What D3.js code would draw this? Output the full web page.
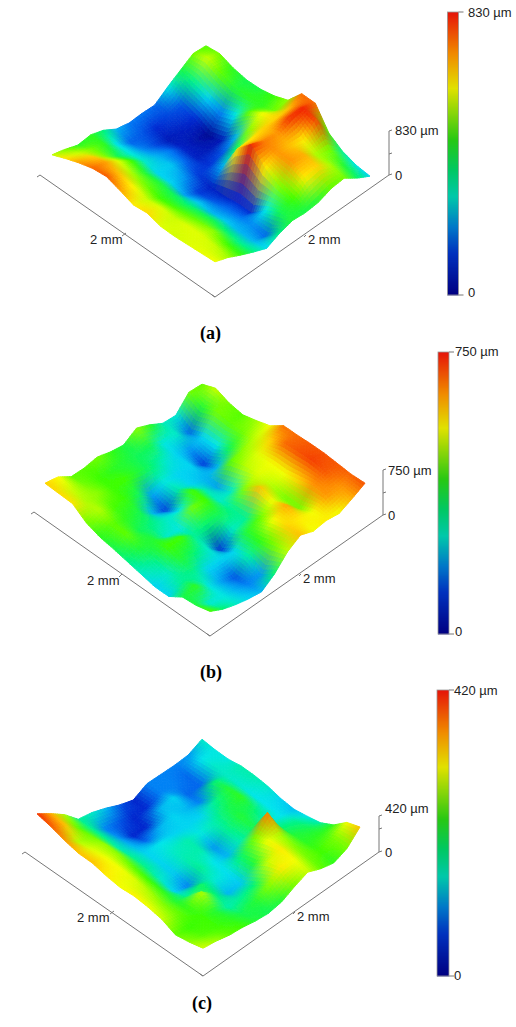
<!DOCTYPE html>
<html><head><meta charset="utf-8">
<script src="https://cdn.jsdelivr.net/npm/d3@7/dist/d3.min.js"></script>
<style>html,body{margin:0;padding:0;background:#fff}svg{display:block}
text{font-family:"Liberation Sans",Arial,sans-serif;font-size:13px;fill:#222}
.cap{font-family:"Liberation Serif","Times New Roman",serif;font-size:18px;font-weight:bold;fill:#000}</style>
</head><body><svg id="c" width="516" height="1027"></svg>
<script>
// Surface heights, as fractions of each panel's z range. Row = step from front-left edge to back-right edge.
const surfaceA=[
[.67,.76,.84,.9,.92,.84,.75,.77,.7,.69,.7,.71,.72],
[.6,.68,.78,.84,.8,.74,.68,.7,.68,.7,.7,.68,.64],
[.51,.6,.62,.7,.65,.6,.55,.56,.58,.6,.62,.55,.53],
[.52,.52,.47,.55,.5,.5,.47,.45,.47,.48,.45,.42,.43],
[.44,.35,.36,.38,.33,.33,.28,.32,.3,.32,.3,.3,.34],
[.3,.22,.26,.3,.32,.27,.17,.2,.23,.24,.26,.22,.44],
[.24,.2,.18,.24,.23,.17,.12,.12,.15,.15,.35,.47,.5],
[.24,.15,.1,.13,.12,.16,.3,.75,.98,.75,.62,.55,.48],
[.22,.18,.12,.08,.1,.2,.45,.75,.88,.85,.85,.75,.5],
[.36,.2,.15,.03,.1,.3,.62,.78,.85,.8,.82,.78,.58],
[.48,.42,.33,.25,.35,.58,.72,.78,.97,.75,.65,.65,.6],
[.6,.68,.58,.5,.52,.52,.6,.8,.98,.95,.6,.5,.45],
[.57,.6,.52,.48,.49,.54,.63,.9,.9,.56,.42,.35,.33]];
const surfaceB=[
[.78,.77,.76,.6,.52,.48,.43,.38,.33,.33,.48,.5,.56],
[.73,.68,.65,.66,.58,.58,.5,.42,.38,.42,.52,.37,.45],
[.58,.6,.62,.56,.52,.47,.5,.55,.5,.42,.36,.36,.38],
[.57,.55,.55,.54,.48,.43,.38,.55,.45,.33,.28,.3,.33],
[.6,.52,.55,.47,.3,.38,.36,.42,.38,.33,.2,.25,.3],
[.53,.5,.5,.28,.18,.35,.6,.45,.16,.33,.4,.27,.45],
[.49,.47,.45,.36,.4,.55,.55,.47,.38,.5,.53,.6,.67],
[.62,.47,.38,.33,.33,.4,.38,.42,.42,.58,.72,.78,.8],
[.52,.36,.33,.33,.3,.28,.38,.62,.8,.72,.83,.75,.72],
[.39,.38,.27,.17,.3,.58,.66,.7,.66,.6,.6,.72,.75],
[.37,.22,.33,.35,.48,.63,.7,.72,.72,.78,.85,.85,.72],
[.6,.5,.6,.58,.6,.68,.78,.9,.93,.95,.92,.85,.82],
[.58,.68,.6,.57,.64,.72,.89,.9,.92,.93,.92,.91,.93]];
const surfaceC=[
[.97,.92,.85,.8,.8,.75,.72,.74,.72,.68,.58,.62,.68],
[.82,.8,.66,.7,.72,.72,.7,.66,.62,.6,.54,.57,.64],
[.65,.58,.6,.63,.62,.58,.55,.53,.5,.53,.55,.55,.58],
[.42,.42,.42,.4,.42,.42,.38,.33,.42,.66,.5,.52,.55],
[.38,.25,.27,.3,.33,.33,.32,.25,.46,.45,.4,.47,.5],
[.3,.2,.14,.22,.35,.38,.4,.42,.37,.3,.42,.5,.47],
[.2,.14,.14,.3,.33,.4,.4,.35,.34,.32,.45,.62,.5],
[.13,.15,.3,.33,.33,.36,.27,.3,.45,.5,.68,.75,.6],
[.25,.25,.33,.3,.33,.4,.42,.4,.6,.72,.75,.72,.68],
[.25,.25,.22,.25,.42,.47,.5,.48,.88,.65,.62,.6,.58],
[.25,.22,.22,.45,.5,.52,.45,.38,.45,.5,.52,.55,.52],
[.27,.35,.38,.38,.37,.35,.35,.35,.42,.47,.52,.6,.6],
[.38,.36,.36,.4,.4,.38,.33,.31,.35,.4,.52,.72,.8]];
const zLabels=["830 µm","750 µm","420 µm"];
const lengthLabel="2 mm";
const captions=["(a)","(b)","(c)"];
const colourStops=[0,.147,.24,.347,.44,.547,.73,.85,1];
const surfaceColours=["#000082","#0028d2","#0078f5","#00e6f0","#00f57a","#3cff00","#ffff00","#ff9600","#f01400"];
const barColours=["#000082","#0032be","#0078c8","#00c8aa","#00c864","#28c814","#e1e100","#f08c00","#e6140a"];

const panels=[
 {grid:surfaceA,L:[52,195],F:[215,305],R:[370,196],B:[206,80],
  box:{L:[40,175],F:[215,297],R:[389,175]},z:[175,154,131],zx:395,
  zTop:131,zZero:176,left:[90,240],leftTick:[[122,236],[126,233]],right:[308,240],rightTick:[[304,237],[306,235]],
  bar:[447.5,12,11,283],barx:468,barTop:13,barZero:293,cap:[200,339]},
 {grid:surfaceB,L:[45,530],F:[210,645],R:[365,539],B:[202,419],
  box:{L:[34,512],F:[210,636],R:[383,515]},z:[515,493,470],zx:388,
  zTop:471,zZero:516,left:[87,581],leftTick:[[119,577],[122,574]],right:[303,579],rightTick:[[299,576],[301,574]],
  bar:[438,352,11,282],barx:455,barTop:352,barZero:632,cap:[200,678]},
 {grid:surfaceC,L:[37,872],F:[203,989],R:[360,875],B:[202,762],
  box:{L:[25,852],F:[203,976],R:[379,852]},z:[852,829,816],zx:385,
  zTop:809,zZero:853,left:[77,918],leftTick:[[110,914],[114,911]],right:[297,917],rightTick:[[293,914],[295,912]],
  bar:[437,690,12,286],barx:454,barTop:691,barZero:976,cap:[192,1009]}
];

const svg=d3.select("#c");
const defs=svg.append("defs");
defs.append("filter").attr("id","soft").attr("x","-5%").attr("y","-5%").attr("width","110%").attr("height","110%")
  .append("feGaussianBlur").attr("stdDeviation",0.7);
const surfaceColour=d3.scaleLinear().domain(colourStops).range(surfaceColours).interpolate(d3.interpolateRgb);
const barColour=d3.scaleLinear().domain(colourStops).range(barColours).interpolate(d3.interpolateRgb);
const zScale=d3.scaleLinear().domain([0,1]).range([0,60]);
const line=d3.line();
const SUB=6;

panels.forEach((p,pi)=>{
  const g=p.grid, nb=g.length, na=g[0].length;
  const ua=d3.scaleLinear().domain([0,na-1]).range([0,1]);
  const ub=d3.scaleLinear().domain([0,nb-1]).range([0,1]);
  const pos=(a,b,h)=>{const s=ua(a),t=ub(b);
    const x=(1-s)*(1-t)*p.L[0]+s*(1-t)*p.F[0]+(1-s)*t*p.B[0]+s*t*p.R[0];
    const y=(1-s)*(1-t)*p.L[1]+s*(1-t)*p.F[1]+(1-s)*t*p.B[1]+s*t*p.R[1];
    return [x,y-zScale(h)];};
  const vert=(a,b)=>({h:g[b][a],c:d3.rgb(surfaceColour(g[b][a])),p:pos(a,b,g[b][a])});
  const mix=(v,s,t,f)=>(1-s)*(1-t)*f(v[0])+s*(1-t)*f(v[1])+(1-s)*t*f(v[2])+s*t*f(v[3]);
  const surf=svg.append("g").attr("filter","url(#soft)");
  const quads=[];
  for(let b=nb-2;b>=0;b--)for(let a=0;a<na-1;a++){
    const v=[vert(a,b),vert(a+1,b),vert(a,b+1),vert(a+1,b+1)];
    for(let j=SUB-1;j>=0;j--)for(let i=0;i<SUB;i++){
      const P=(s,t)=>[mix(v,s,t,d=>d.p[0]),mix(v,s,t,d=>d.p[1])];
      const s0=i/SUB,s1=(i+1)/SUB,t0=j/SUB,t1=(j+1)/SUB,sm=(s0+s1)/2,tm=(t0+t1)/2;
      const col=`rgb(${mix(v,sm,tm,d=>d.c.r)|0},${mix(v,sm,tm,d=>d.c.g)|0},${mix(v,sm,tm,d=>d.c.b)|0})`;
      quads.push({pts:[P(s0,t0),P(s1,t0),P(s1,t1),P(s0,t1)],col});
    }
  }
  surf.selectAll("path").data(quads).join("path")
    .attr("d",d=>line(d.pts)+"Z").attr("fill",d=>d.col).attr("stroke",d=>d.col).attr("stroke-width",1);

  // base axes
  const ax=svg.append("g").attr("fill","none").attr("stroke","#777").attr("stroke-width",1);
  ax.append("path").attr("d",line([p.box.L,p.box.F,p.box.R]));
  ax.append("path").attr("d",line([[p.box.L[0],p.box.L[1]],[p.box.L[0]-3,p.box.L[1]+2]]));
  ax.append("path").attr("d",line([[p.box.R[0],p.z[0]],[p.box.R[0],p.z[2]]]));
  p.z.forEach(y=>ax.append("path").attr("d",line([[p.box.R[0],y],[p.box.R[0]+3,y-1]])));
  ax.append("path").attr("d",line(p.leftTick));
  ax.append("path").attr("d",line(p.rightTick));
  ax.append("path").attr("d",line([[p.box.F[0],p.box.F[1]],[p.box.F[0]-3,p.box.F[1]-2]]));
  const T=(x,y,s,c)=>svg.append("text").attr("x",x).attr("y",y+1).attr("dominant-baseline","middle").attr("class",c||null).text(s);
  T(p.left[0],p.left[1],lengthLabel);
  T(p.right[0],p.right[1],lengthLabel);
  T(p.zx,p.zTop,zLabels[pi]);
  T(p.zx,p.zZero,"0");

  // colour bar
  const [bx,by,bw,bh]=p.bar;
  const yS=d3.scaleLinear().domain([0,1]).range([by+bh,by]);
  const cells=d3.range(0,bh).map(i=>i/bh);
  svg.append("g").selectAll("rect").data(cells).join("rect")
    .attr("x",bx).attr("width",bw).attr("y",d=>yS(d+1/bh)).attr("height",1.4).attr("fill",d=>barColour(d));
  svg.append("rect").attr("x",bx).attr("y",by).attr("width",bw).attr("height",bh).attr("fill","none").attr("stroke","#999").attr("stroke-width",.8);
  ax.append("path").attr("d",line([[bx+bw,by],[bx+bw+5,by]]));
  ax.append("path").attr("d",line([[bx+bw,by+bh],[bx+bw+5,by+bh]]));
  T(p.barx,p.barTop,zLabels[pi]);
  T(p.barx,p.barZero,"0");
  svg.append("text").attr("class","cap").attr("x",p.cap[0]).attr("y",p.cap[1]).text(captions[pi]);
});
</script></body></html>
